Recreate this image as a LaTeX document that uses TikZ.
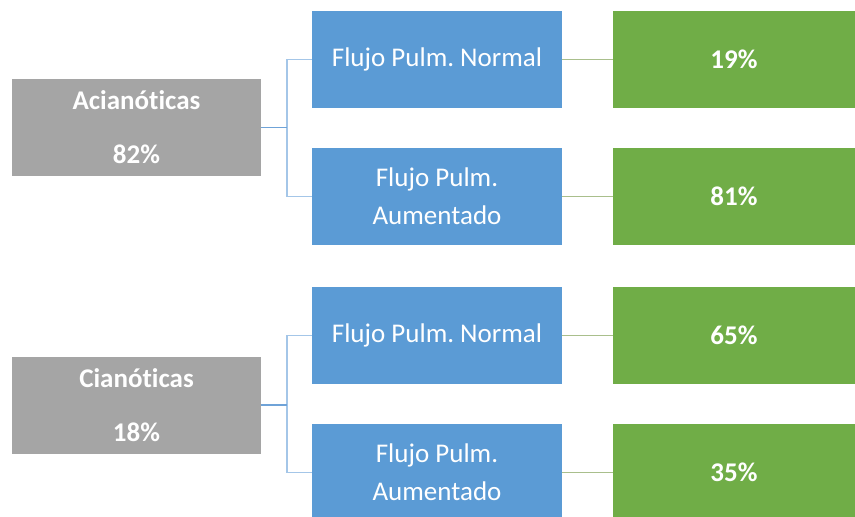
\documentclass[tikz,border=0pt]{standalone}
\usepackage{fontspec}
\setmainfont{Carlito}[Ligatures=NoCommon]
\frenchspacing
\definecolor{boxgray}{HTML}{A5A5A5}
\definecolor{boxblue}{HTML}{5B9BD5}
\definecolor{boxgreen}{HTML}{70AD47}
\definecolor{lineblue}{HTML}{6FA3D8}
\definecolor{linelight}{HTML}{A4C6E8}
\definecolor{linegreen}{HTML}{A9BF8C}
\begin{document}
\begin{tikzpicture}[x=1pt,y=-1pt,
  base/.style={rectangle,inner sep=0pt,text=white,align=center,anchor=center},
  graybox/.style={base,fill=boxgray,minimum width=249pt,minimum height=97pt,font=\fontsize{27}{54}\selectfont\bfseries},
  bluebox/.style={base,fill=boxblue,minimum width=250pt,minimum height=97pt,font=\fontsize{27}{38}\selectfont},
  greenbox/.style={base,fill=boxgreen,minimum width=242pt,minimum height=97pt,font=\fontsize{27}{38}\selectfont\bfseries},
  conn/.style={line width=1.4pt,draw=lineblue},
  branch/.style={line width=1.4pt,draw=linelight},
  glink/.style={line width=1.4pt,draw=linegreen}]
\useasboundingbox (0,0) rectangle (855,517);
\clip (0,0) rectangle (855,517);
% group 1
\node[graybox] (g1) at (136.5,127.5) {Acianóticas\\82\%};
\node[bluebox] (b1) at (437,59.5) {Flujo Pulm. Normal};
\node[bluebox] (b2) at (437,196.5) {Flujo Pulm.\\Aumentado};
\node[greenbox] (p1) at (734,59.5) {19\%};
\node[greenbox] (p2) at (734,196.5) {81\%};
\coordinate (j1) at (287,127.5);
\draw[branch] (b1.west) -| (j1) |- (b2.west);
\draw[conn] (g1.east) -- (j1);
\draw[glink] (b1.east) -- (p1.west);
\draw[glink] (b2.east) -- (p2.west);
% group 2
\node[graybox] (g2) at (136.5,405) {Cianóticas\\18\%};
\node[bluebox] (b3) at (437,335.5) {Flujo Pulm. Normal};
\node[bluebox] (b4) at (437,472.5) {Flujo Pulm.\\Aumentado};
\node[greenbox] (p3) at (734,335.5) {65\%};
\node[greenbox] (p4) at (734,472.5) {35\%};
\coordinate (j2) at (287,405);
\draw[branch] (b3.west) -| (j2) |- (b4.west);
\draw[conn] (g2.east) -- (j2);
\draw[glink] (b3.east) -- (p3.west);
\draw[glink] (b4.east) -- (p4.west);
\end{tikzpicture}
\end{document}
